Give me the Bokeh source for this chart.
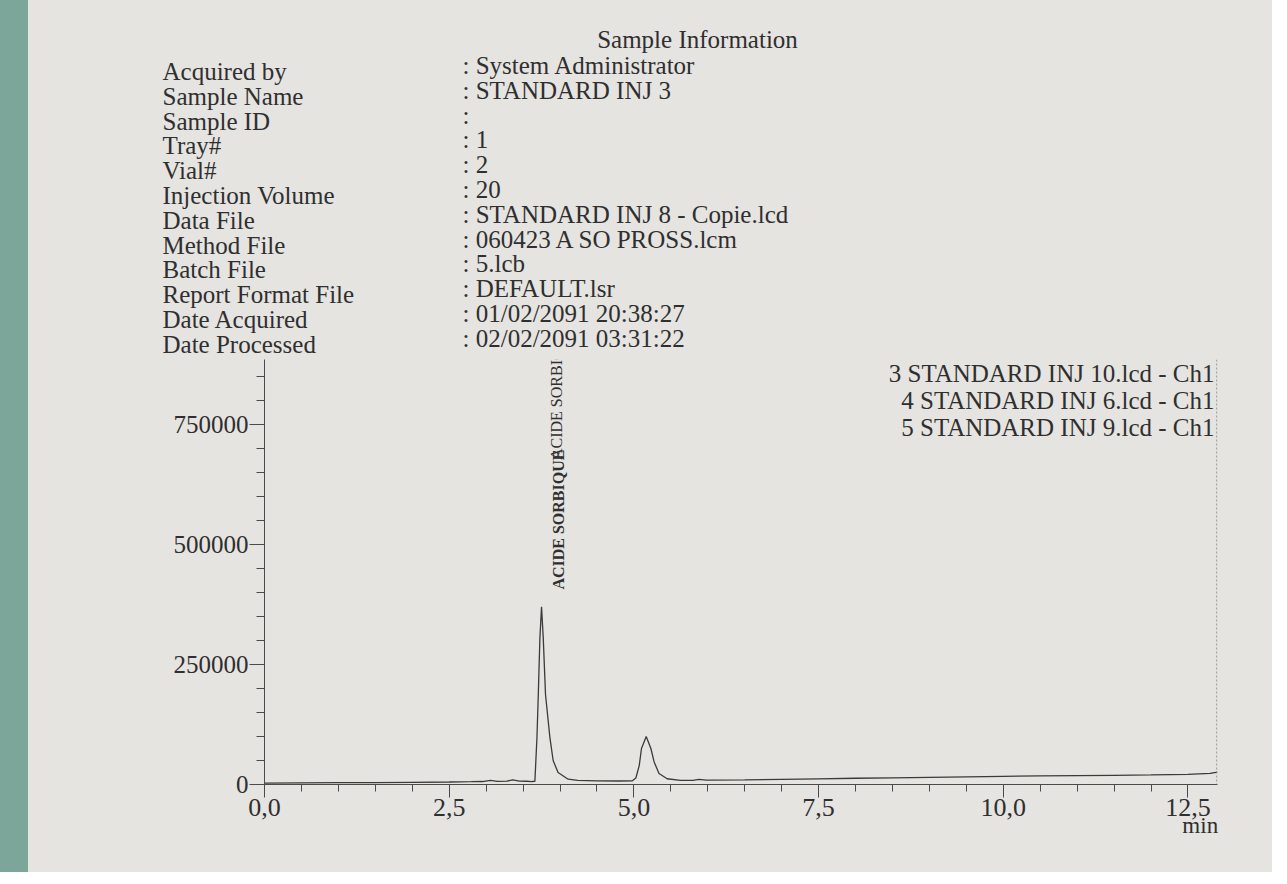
import numpy as np
from bokeh.plotting import figure
from bokeh.models import Range1d, FixedTicker, Label, Span, Div
from bokeh.layouts import row, column
from bokeh.embed import file_html
from bokeh.resources import INLINE
from bokeh.core.properties import value

# ---------------- data ----------------
time_min = [0.00, 0.50, 1.00, 1.50, 2.00, 2.50, 2.80, 2.95, 3.06, 3.15, 3.28, 3.36,
            3.45, 3.55, 3.62, 3.66, 3.688, 3.706, 3.728, 3.75, 3.773, 3.804, 3.863,
            3.907, 3.974, 4.11, 4.24, 4.50, 4.80, 4.98, 5.027, 5.073, 5.103, 5.167,
            5.23, 5.274, 5.34, 5.45, 5.63, 5.80, 5.88, 5.98, 6.50, 7.00, 7.50, 8.00,
            8.50, 9.00, 9.50, 10.00, 10.50, 11.00, 11.50, 12.00, 12.50, 12.80, 12.90]
signal = [3000, 3300, 3700, 4100, 4600, 5200, 5800, 6200, 8500, 6600, 7000, 9500,
          7200, 6800, 6200, 6500, 98000, 187000, 306000, 370000, 306000, 187000, 98000,
          50000, 25000, 11000, 8500, 7500, 7300, 7800, 13500, 40000, 75000, 100000,
          75000, 47000, 23000, 12000, 8800, 8800, 10500, 9200, 9800, 10800, 11800, 13000,
          14000, 15000, 16000, 17000, 17800, 18500, 19200, 20000, 21000, 23000, 26000]

x_ticks = [0.0, 2.5, 5.0, 7.5, 10.0, 12.5]
x_tick_labels = ["0,0", "2,5", "5,0", "7,5", "10,0", "12,5"]
x_minor_ticks = [0.5 * i for i in range(26)]
y_ticks = [0, 250000, 500000, 750000]
y_tick_labels = ["0", "250000", "500000", "750000"]
y_minor_ticks = [50000 * i for i in range(18)]

info_title = "Sample Information"
info_fields = ["Acquired by", "Sample Name", "Sample ID", "Tray#", "Vial#",
               "Injection Volume", "Data File", "Method File", "Batch File",
               "Report Format File", "Date Acquired", "Date Processed"]
info_values = [": System Administrator", ": STANDARD INJ 3", ":", ": 1", ": 2", ": 20",
               ": STANDARD INJ 8 - Copie.lcd", ": 060423 A SO PROSS.lcm", ": 5.lcb",
               ": DEFAULT.lsr", ": 01/02/2091 20:38:27", ": 02/02/2091 03:31:22"]
legend_entries = ["3 STANDARD INJ 10.lcd - Ch1", "4 STANDARD INJ 6.lcd - Ch1",
                  "5 STANDARD INJ 9.lcd - Ch1"]
peak_names = ["ACIDE SORBIQUE", "ACIDE SORBIQUE"]
peak_label_time = [3.98, 3.95]
peak_label_level = [406000, 676000]
peak_label_style = ["bold", "normal"]
x_unit = "min"

# ---------------- layout ----------------
X_END = 12.9
STRIP_W = 28
FIG_W = 1244
PAGE_X0 = 8 + STRIP_W              # page x of the figure canvases
HEAD_TOP, HEAD_BOT = 8, 367        # page y of header canvas
FRAME_L, FRAME_R, FRAME_T, FRAME_B = 272, 1225, 367, 792   # page px of plot frame
PAGE_BOT = 880
Y_END = 250000 * (FRAME_B - FRAME_T) / 120.0   # 120 px per 250000 in the reference

def px2x(px):
    return (px - FRAME_L) / (FRAME_R - FRAME_L) * X_END

def py2y(py):
    return (FRAME_B - py) / (FRAME_B - FRAME_T) * Y_END

PAPER = "#e5e4e1"
INK = "#2f2f2f"
FONT = "Liberation Serif"

# ---------------- header figure (sample information) ----------------
h = figure(width=FIG_W, height=HEAD_BOT - HEAD_TOP, output_backend="svg",
           toolbar_location=None, x_axis_type=None, y_axis_type=None,
           x_range=Range1d(PAGE_X0, PAGE_X0 + FIG_W), y_range=Range1d(HEAD_BOT, HEAD_TOP),
           styles={"background-color": PAPER})
h.min_border = 0
h.min_border_left = h.min_border_right = h.min_border_top = h.min_border_bottom = 0
h.background_fill_color = PAPER
h.border_fill_color = PAPER
h.outline_line_color = None
h.xgrid.visible = False
h.ygrid.visible = False

h.text(x=[705], y=[47], text=[info_title], text_align="center", text_baseline="middle",
       text_font=value(FONT), text_font_size="25px", text_color=INK)
name_y = [79 + 24.8 * i for i in range(len(info_fields))]
val_y = [73 + 24.8 * i for i in range(len(info_values))]
h.text(x=[170] * len(info_fields), y=name_y, text=info_fields, text_align="left",
       text_baseline="middle", text_font=value(FONT), text_font_size="25px", text_color=INK)
h.text(x=[470] * len(info_values), y=val_y, text=info_values, text_align="left",
       text_baseline="middle", text_font=value(FONT), text_font_size="25px", text_color=INK)

# ---------------- chromatogram figure ----------------
p = figure(width=FIG_W, height=PAGE_BOT - HEAD_BOT, output_backend="svg",
           toolbar_location=None, x_range=Range1d(0, X_END), y_range=Range1d(0, Y_END),
           styles={"background-color": PAPER})
p.min_border_left = FRAME_L - PAGE_X0
p.min_border_right = PAGE_X0 + FIG_W - FRAME_R
p.min_border_top = 0
p.min_border_bottom = PAGE_BOT - FRAME_B
p.background_fill_color = PAPER
p.border_fill_color = PAPER
p.outline_line_color = None
p.xgrid.visible = False
p.ygrid.visible = False

p.line(time_min, signal, line_color="#3a3a3a", line_width=1.3)

for t, lvl, st, name in zip(peak_label_time, peak_label_level, peak_label_style, peak_names):
    p.text(x=[t], y=[lvl], text=[name], angle=np.pi / 2, text_align="left",
           text_baseline="middle", text_font=value(FONT), text_font_size="16px",
           text_font_style=st, text_color=INK)

p.add_layout(Span(location=X_END * 0.9993, dimension="height", line_color="#8a8a8a",
                  line_width=1, line_dash="2 2"))

for i, s in enumerate(legend_entries):
    p.add_layout(Label(x=px2x(1222), y=py2y(381 + 27 * i), text=s, text_align="right",
                       text_baseline="middle", text_font=FONT, text_font_size="25px",
                       text_color=INK))

for ax in (p.xaxis[0], p.yaxis[0]):
    ax.axis_line_color = "#4a4a4a"
    ax.major_tick_line_color = "#4a4a4a"
    ax.minor_tick_line_color = "#4a4a4a"
    ax.major_tick_in = 0
    ax.minor_tick_in = 0
    ax.major_label_text_font = FONT
    ax.major_label_text_color = INK

p.xaxis.ticker = FixedTicker(ticks=x_ticks, minor_ticks=x_minor_ticks)
p.xaxis.major_label_overrides = dict(zip(x_ticks, x_tick_labels))
p.xaxis.major_tick_out = 13
p.xaxis.minor_tick_out = 7
p.xaxis.major_label_standoff = 1
p.xaxis.major_label_text_font_size = "26px"

p.yaxis.ticker = FixedTicker(ticks=y_ticks, minor_ticks=y_minor_ticks)
p.yaxis.major_label_overrides = dict(zip(y_ticks, y_tick_labels))
p.yaxis.major_tick_out = 15
p.yaxis.minor_tick_out = 8
p.yaxis.major_label_standoff = 1
p.yaxis.major_label_text_font_size = "25px"

xa = p.xaxis[0]
xa.axis_label = x_unit + "\u00a0" * 6   # padding keeps the unit right-aligned to the frame end
xa.axis_label_align = "end"
xa.axis_label_standoff = -6
xa.axis_label_text_font = FONT
xa.axis_label_text_font_style = "normal"
xa.axis_label_text_font_size = "23px"
xa.axis_label_text_color = INK

use_frame_align = "frame_align" in h.properties()
if use_frame_align:
    h.frame_align = False
    p.frame_align = False
    strip = Div(text="", width=STRIP_W, height=PAGE_BOT - HEAD_TOP,
                styles={"background-color": "#7da69b", "margin": "0"})
    layout = row(strip, column(h, p, spacing=0), spacing=0)
    html = file_html(layout, INLINE)
else:
    s1 = Div(text="", width=STRIP_W, height=HEAD_BOT - HEAD_TOP,
             styles={"background-color": "#7da69b", "margin": "0"})
    s2 = Div(text="", width=STRIP_W, height=PAGE_BOT - HEAD_BOT,
             styles={"background-color": "#7da69b", "margin": "0"})
    html = file_html([row(s1, h, spacing=0), row(s2, p, spacing=0)], INLINE)

open("out.html", "w").write(html)
